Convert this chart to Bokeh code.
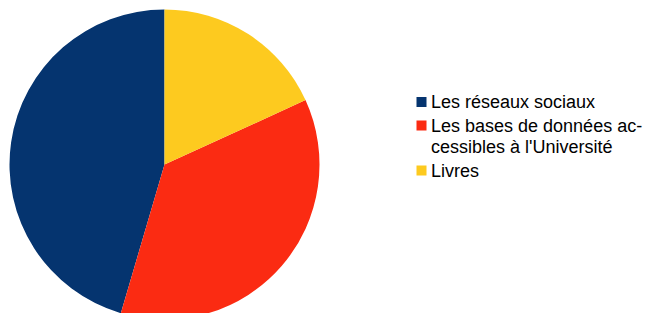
import math
from bokeh.plotting import figure
from bokeh.models import Range1d, ColumnDataSource
from bokeh.core.properties import value
from bokeh.embed import file_html
from bokeh.resources import INLINE

categories = ["Les réseaux sociaux", "Les bases de données ac-\ncessibles à l'Université", "Livres"]
values = [25, 20, 10]
colors = ["#05346f", "#fb2b12", "#fdca1f"]

W, H = 648, 313
p = figure(width=W, height=H, output_backend="svg", toolbar_location=None,
           x_range=Range1d(0, W), y_range=Range1d(0, H), min_border=0)
p.axis.visible = False
p.grid.visible = False
p.outline_line_color = None
p.background_fill_color = "white"
p.border_fill_color = "white"

total = float(sum(values))
starts, ends = [], []
acc = 0.0
for v in values:
    a0 = math.pi / 2 + acc / total * 2 * math.pi
    acc += v
    a1 = math.pi / 2 + acc / total * 2 * math.pi
    starts.append(a0)
    ends.append(a1)

cx, cy, r = 164, H - 164, 155
src = ColumnDataSource(dict(start=starts, end=ends, color=colors))
p.wedge(x=cx, y=cy, radius=r, start_angle="start", end_angle="end",
        fill_color="color", line_color=None, source=src)

# legend
sq_top = [101.5, 125, 170]
row_base = [101, 125.5, 170.5]   # page y of first line of each entry
line_gap = 21
p.rect(x=[421] * 3, y=[H - t for t in sq_top], width=10, height=10,
       fill_color=colors, line_color=None)
lx, ly, lt = [], [], []
for cat, b in zip(categories, row_base):
    for i, line in enumerate(cat.split("\n")):
        lx.append(430.5)
        ly.append(H - (b + i * line_gap))
        lt.append(line)
p.text(x=lx, y=ly, text=lt,
       text_font=value("Liberation Sans"), text_font_size="18px", text_color="#000000",
       text_baseline="alphabetic", text_align="left")

html = file_html(p, INLINE)
open("out.html", "w").write(html)
